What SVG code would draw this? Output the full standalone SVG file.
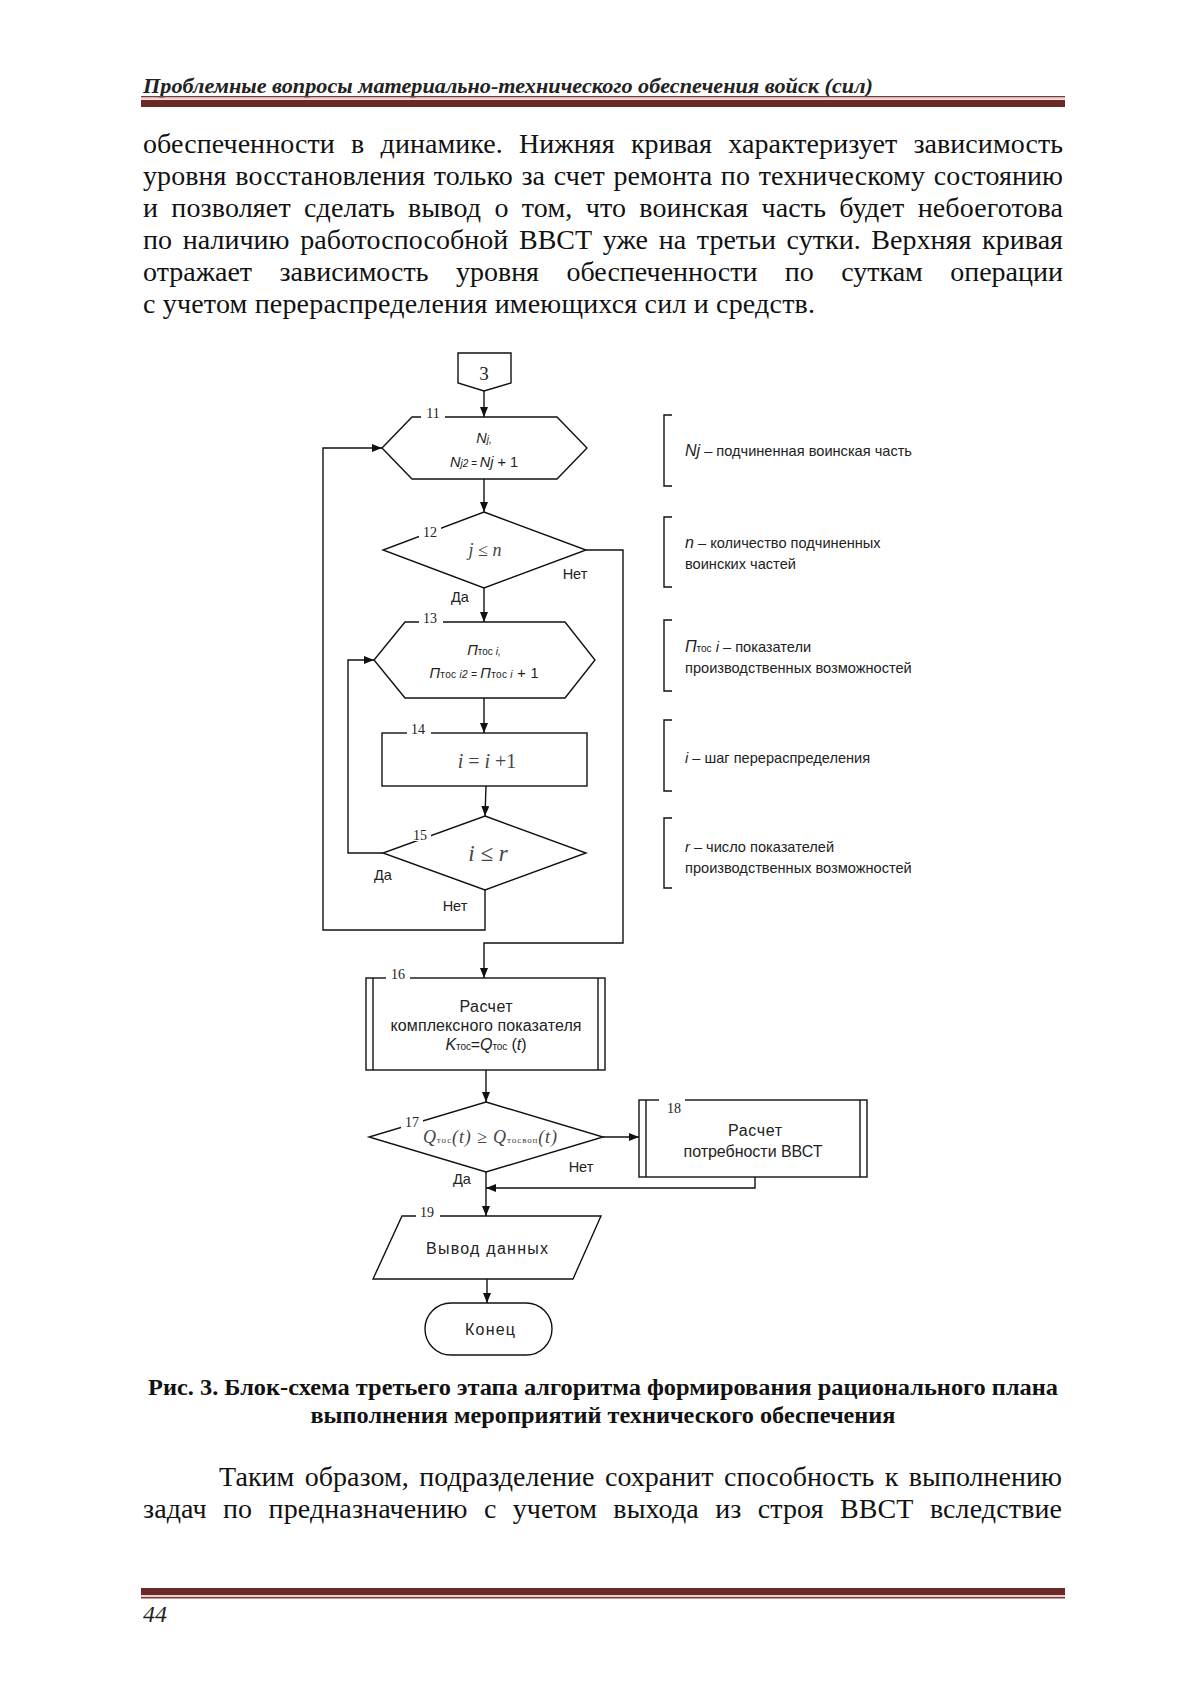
<svg xmlns="http://www.w3.org/2000/svg" width="1200" height="1697" viewBox="0 0 1200 1697">
<style>
.body{font-family:"Liberation Serif","Times New Roman",serif;font-size:28px;fill:#111}
.cap{font-family:"Liberation Serif","Times New Roman",serif;font-size:23.5px;font-weight:bold;fill:#111}
.hdr{font-family:"Liberation Serif","Times New Roman",serif;font-size:20px;font-weight:bold;font-style:italic;fill:#222}
.pg{font-family:"Liberation Serif","Times New Roman",serif;font-size:24px;font-style:italic;fill:#222}
.sh{fill:none;stroke:#111;stroke-width:1.4}
.ln{fill:none;stroke:#111;stroke-width:1.4}
.t{font-family:"Liberation Sans",Arial,sans-serif;font-size:14.5px;fill:#222}
.bt{font-family:"Liberation Sans",Arial,sans-serif;font-size:16px;fill:#222}
.lg{font-family:"Liberation Sans",Arial,sans-serif;font-size:14.6px;fill:#222}
.num{font-family:"Liberation Serif","Times New Roman",serif;font-size:14px;fill:#222}
.n3{font-family:"Liberation Serif","Times New Roman",serif;font-size:19px;fill:#222}
.mth{font-family:"Liberation Serif","Times New Roman",serif;font-style:italic;fill:#444}
.it{font-style:italic}
.up{font-style:normal}
.sub{font-size:10px}
.gap{fill:#fff;stroke:none}
</style>
<defs>
<marker id="ar" markerWidth="10" markerHeight="8" refX="10" refY="4" orient="auto" markerUnits="userSpaceOnUse">
<path d="M0,0 L10,4 L0,8 Z" fill="#111"/>
</marker>
</defs>
<rect width="1200" height="1697" fill="#fff"/>

<g id="header">
<text class="hdr" x="143" y="93" textLength="730" lengthAdjust="spacingAndGlyphs">Проблемные вопросы материально-технического обеспечения войск (сил)</text>
<rect x="141" y="96" width="924" height="1.5" fill="#7a3a3a"/>
<rect x="141" y="97.5" width="924" height="2" fill="#e9cccc"/>
<rect x="141" y="100" width="924" height="7" fill="#6a2828"/>
</g>

<g id="text-top">
<text class="body" x="143" y="153" word-spacing="9.2" textLength="920" lengthAdjust="spacing">обеспеченности в динамике. Нижняя кривая характеризует зависимость</text>
<text class="body" x="143" y="185" word-spacing="1.6" textLength="920" lengthAdjust="spacing">уровня восстановления только за счет ремонта по техническому состоянию</text>
<text class="body" x="143" y="217" word-spacing="6.1" textLength="920" lengthAdjust="spacing">и позволяет сделать вывод о том, что воинская часть будет небоеготова</text>
<text class="body" x="143" y="249" word-spacing="3.6" textLength="920" lengthAdjust="spacing">по наличию работоспособной ВВСТ уже на третьи сутки. Верхняя кривая</text>
<text class="body" x="143" y="281" word-spacing="20.4" textLength="920" lengthAdjust="spacing">отражает зависимость уровня обеспеченности по суткам операции</text>
<text class="body" x="143" y="313" textLength="672" lengthAdjust="spacing">с учетом перераспределения имеющихся сил и средств.</text>
</g>

<g id="connectors">
<line class="ln" x1="484" y1="391" x2="484" y2="417" marker-end="url(#ar)"/>
<line class="ln" x1="484" y1="479" x2="484" y2="512" marker-end="url(#ar)"/>
<polyline class="ln" points="586,550 623,550 623,943 484,943 484,978" marker-end="url(#ar)"/>
<line class="ln" x1="484" y1="588" x2="484" y2="622" marker-end="url(#ar)"/>
<line class="ln" x1="484" y1="698" x2="484" y2="733" marker-end="url(#ar)"/>
<line class="ln" x1="486" y1="786" x2="485" y2="816" marker-end="url(#ar)"/>
<polyline class="ln" points="383,853 348,853 348,660 374,660" marker-end="url(#ar)"/>
<polyline class="ln" points="485,890 485,930 323,930 323,448 382,448" marker-end="url(#ar)"/>
<line class="ln" x1="486" y1="1070" x2="486" y2="1102" marker-end="url(#ar)"/>
<line class="ln" x1="603" y1="1137" x2="639" y2="1137" marker-end="url(#ar)"/>
<polyline class="ln" points="755,1177 755,1188 486,1188" marker-end="url(#ar)"/>
<line class="ln" x1="486" y1="1172" x2="486" y2="1216" marker-end="url(#ar)"/>
<line class="ln" x1="487" y1="1279" x2="487" y2="1303" marker-end="url(#ar)"/>
<text class="t" x="575" y="579" text-anchor="middle">Нет</text>
<text class="t" x="460" y="602" text-anchor="middle">Да</text>
<text class="t" x="383" y="880" text-anchor="middle">Да</text>
<text class="t" x="455" y="911" text-anchor="middle">Нет</text>
<text class="t" x="462" y="1184" text-anchor="middle">Да</text>
<text class="t" x="581" y="1172" text-anchor="middle">Нет</text>
</g>

<g id="n3">
<polygon class="sh" points="458,353 511,353 511,383 484,391 458,383"/>
<text class="n3" x="484" y="380" text-anchor="middle">3</text>
</g>

<g id="n11">
<polygon class="sh" points="412,417 557,417 587,448 557,479 412,479 382,448"/>
<rect class="gap" x="421" y="412" width="24" height="10"/>
<text class="num" x="433" y="418" text-anchor="middle">11</text>
<text class="t" x="484" y="443" text-anchor="middle"><tspan class="it">N</tspan><tspan class="it sub">j,</tspan></text>
<text class="t" x="484" y="467" text-anchor="middle"><tspan class="it">N</tspan><tspan class="it sub">j2 = </tspan><tspan class="it">N</tspan><tspan class="it">j</tspan> + 1</text>
</g>

<g id="n12">
<polygon class="sh" points="484,512 586,550 484,588 383,550"/>
<rect class="gap" x="419" y="526" width="22" height="12"/>
<text class="num" x="430" y="537" text-anchor="middle">12</text>
<text class="mth" x="485" y="556" font-size="18" text-anchor="middle">j ≤ n</text>
</g>

<g id="n13">
<polygon class="sh" points="405,622 565,622 595,660 565,698 405,698 374,660"/>
<rect class="gap" x="419" y="617" width="24" height="10"/>
<text class="num" x="430" y="623" text-anchor="middle">13</text>
<text class="t" x="484" y="655" text-anchor="middle"><tspan class="it">П</tspan><tspan class="sub">тос </tspan><tspan class="it sub">i,</tspan></text>
<text class="t" x="484" y="678" text-anchor="middle" textLength="109"><tspan class="it">П</tspan><tspan class="sub">тос </tspan><tspan class="it sub">i2 = </tspan><tspan class="it">П</tspan><tspan class="sub">тос </tspan><tspan class="it sub">i</tspan> + 1</text>
</g>

<g id="n14">
<rect class="sh" x="382" y="733" width="205" height="53"/>
<rect class="gap" x="407" y="728" width="24" height="10"/>
<text class="num" x="418" y="734" text-anchor="middle">14</text>
<text class="mth" x="487" y="768" font-size="20" text-anchor="middle">i<tspan class="up"> = </tspan>i<tspan class="up"> +1</tspan></text>
</g>

<g id="n15">
<polygon class="sh" points="485,816 586,853 485,890 383,853"/>
<rect class="gap" x="409" y="829" width="22" height="12"/>
<text class="num" x="420" y="840" text-anchor="middle">15</text>
<text class="mth" x="488" y="861" font-size="23" text-anchor="middle">i ≤ r</text>
</g>

<g id="n16">
<rect class="sh" x="366" y="978" width="239" height="92"/>
<line class="ln" x1="373" y1="978" x2="373" y2="1070"/>
<line class="ln" x1="598" y1="978" x2="598" y2="1070"/>
<rect class="gap" x="386" y="973" width="24" height="10"/>
<text class="num" x="398" y="979" text-anchor="middle">16</text>
<text class="bt" x="486" y="1012" text-anchor="middle" textLength="53">Расчет</text>
<text class="bt" x="486" y="1031" text-anchor="middle" textLength="191">комплексного показателя</text>
<text class="bt" x="486" y="1050" text-anchor="middle" textLength="81"><tspan class="it">K</tspan><tspan class="sub">тос</tspan>=<tspan class="it">Q</tspan><tspan class="sub">тос</tspan> (<tspan class="it">t</tspan>)</text>
</g>

<g id="n17">
<polygon class="sh" points="486,1102 603,1137 486,1172 369,1137"/>
<rect class="gap" x="401" y="1117" width="22" height="12"/>
<text class="num" x="412" y="1127" text-anchor="middle">17</text>
<text class="mth" x="490" y="1143" font-size="18" text-anchor="middle" textLength="134">Q<tspan font-size="9" font-style="normal">тос</tspan>(t) ≥ Q<tspan font-size="9" font-style="normal">тосвоп</tspan>(t)</text>
</g>

<g id="n18">
<rect class="sh" x="639" y="1100" width="228" height="77"/>
<line class="ln" x1="646" y1="1100" x2="646" y2="1177"/>
<line class="ln" x1="860" y1="1100" x2="860" y2="1177"/>
<rect class="gap" x="659" y="1098" width="26" height="5"/>
<text class="num" x="674" y="1113" text-anchor="middle">18</text>
<text class="bt" x="755" y="1136" text-anchor="middle" textLength="54">Расчет</text>
<text class="bt" x="753" y="1157" text-anchor="middle" textLength="139">потребности ВВСТ</text>
</g>

<g id="n19">
<polygon class="sh" points="402,1216 601,1216 573,1279 373,1279"/>
<rect class="gap" x="416" y="1211" width="24" height="10"/>
<text class="num" x="427" y="1217" text-anchor="middle">19</text>
<text class="bt" x="487" y="1254" text-anchor="middle" textLength="122">Вывод данных</text>
</g>

<g id="end">
<rect class="sh" x="425" y="1303" width="127" height="52" rx="26" ry="26"/>
<text class="bt" x="490" y="1335" text-anchor="middle" textLength="50">Конец</text>
</g>

<g id="legend">
<polyline class="ln" points="672,415 664,415 664,486 672,486"/>
<text class="lg" x="685" y="456"><tspan class="it" font-size="16">Nj</tspan> – подчиненная воинская часть</text>
<polyline class="ln" points="672,517 664,517 664,587 672,587"/>
<text class="lg" x="685" y="548"><tspan class="it" font-size="16">n</tspan> – количество подчиненных</text>
<text class="lg" x="685" y="569">воинских частей</text>
<polyline class="ln" points="672,620 664,620 664,691 672,691"/>
<text class="lg" x="685" y="652"><tspan class="it" font-size="16">П</tspan><tspan class="sub">тос</tspan> <tspan class="it">i</tspan> – показатели</text>
<text class="lg" x="685" y="673">производственных возможностей</text>
<polyline class="ln" points="672,720 664,720 664,791 672,791"/>
<text class="lg" x="685" y="763"><tspan class="it">i</tspan> – шаг перераспределения</text>
<polyline class="ln" points="672,818 664,818 664,888 672,888"/>
<text class="lg" x="685" y="852"><tspan class="it">r</tspan> – число показателей</text>
<text class="lg" x="685" y="873">производственных возможностей</text>
</g>

<g id="caption">
<text class="cap" x="603" y="1395" text-anchor="middle" textLength="910" lengthAdjust="spacingAndGlyphs">Рис. 3. Блок-схема третьего этапа алгоритма формирования рационального плана</text>
<text class="cap" x="603" y="1423" text-anchor="middle" textLength="585" lengthAdjust="spacingAndGlyphs">выполнения мероприятий технического обеспечения</text>
</g>

<g id="text-bottom">
<text class="body" x="219" y="1486" word-spacing="3.4" textLength="843" lengthAdjust="spacing">Таким образом, подразделение сохранит способность к выполнению</text>
<text class="body" x="143" y="1518" word-spacing="9.2" textLength="919" lengthAdjust="spacing">задач по предназначению с учетом выхода из строя ВВСТ вследствие</text>
</g>

<g id="footer">
<rect x="141" y="1588" width="924" height="7" fill="#6a2828"/>
<rect x="141" y="1595" width="924" height="2" fill="#e9cccc"/>
<rect x="141" y="1597" width="924" height="1.5" fill="#7a3a3a"/>
<text class="pg" x="143" y="1622">44</text>
</g>
</svg>
